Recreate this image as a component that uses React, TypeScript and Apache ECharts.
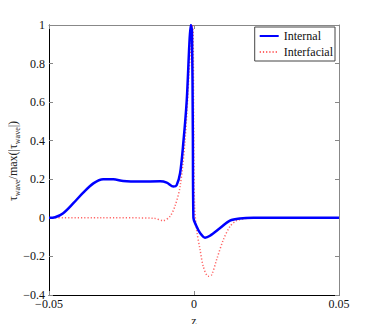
import React, { useEffect, useRef } from "react";
import * as echarts from "echarts";

const internalZ = [-0.05, -0.0479, -0.0451, -0.0416, -0.0382, -0.0347, -0.0313, -0.0278, -0.0244, -0.0186, -0.0117, -0.0094, -0.0071, -0.006, -0.0048, -0.0037, -0.0025, -0.0016, -0.0011, -0.0007, -0.0004, -0.0002, 0.0009, 0.0021, 0.0038, 0.0055, 0.009, 0.0124, 0.0159, 0.0205, 0.05];
const internalV = [0, 0.003, 0.024, 0.076, 0.131, 0.179, 0.2, 0.2, 0.191, 0.188, 0.19, 0.183, 0.162, 0.169, 0.231, 0.386, 0.61, 0.9, 1.0, 0.97, 0.44, 0, -0.045, -0.079, -0.103, -0.093, -0.053, -0.014, -0.003, 0, 0];

const interfacialZ = [-0.05, -0.0324, -0.014, -0.0106, -0.0083, -0.0066, -0.0048, -0.0031, -0.0017, -0.0011, -0.0006, -0.0003, -0.0001, 0.0002, 0.0009, 0.0021, 0.0032, 0.0049, 0.0061, 0.0078, 0.0101, 0.0124, 0.0147, 0.0182, 0.0228, 0.05];
const interfacialV = [0, 0.001, -0.002, -0.014, 0.007, 0.059, 0.162, 0.4, 0.75, 0.9, 1.0, 0.97, 0.44, 0.06, -0.062, -0.166, -0.252, -0.303, -0.295, -0.217, -0.114, -0.045, -0.014, -0.003, 0, 0];

const xTicks = { min: -0.05, max: 0.05, interval: 0.05 };
const yTicks = { min: -0.4, max: 1, interval: 0.2 };

const yTitle = "{t|τ}{s|wave}{t|/max(|τ}{s|wave}{t||)}";

const FONT = "'Liberation Serif', 'Times New Roman', serif";

const fmt = (v: number) => {
  let s = String(Math.round(v * 1000) / 1000);
  return s.replace("-", "\u2212");
};

export default function App() {
  const ref = useRef<HTMLDivElement>(null);
  useEffect(() => {
    if (!ref.current) return;
    const chart = echarts.init(ref.current, null, { renderer: "svg" });
    const pair = (zs: number[], vs: number[]) => zs.map((z, i) => [z, vs[i]]);
    chart.setOption({
      animation: false,
      backgroundColor: "#fff",
      textStyle: { fontFamily: FONT },
      grid: { left: 49, right: 35, top: 25, bottom: 37, containLabel: false, outerBoundsMode: "none" },
      graphic: [
        {
          type: "text",
          x: 13,
          y: 161,
          rotation: Math.PI / 2,
          style: {
            text: yTitle,
            align: "center",
            verticalAlign: "middle",
            fill: "#222",
            font: "12px " + FONT,
            rich: {
              t: { fontFamily: FONT, fontSize: 12, lineHeight: 16, fill: "#222", verticalAlign: "middle" },
              s: { fontFamily: FONT, fontSize: 8, lineHeight: 16, fill: "#222", verticalAlign: "bottom", padding: [6, 0, 0, 0] },
            },
          },
        },
      ],
      legend: {
        orient: "vertical",
        right: 39,
        top: 27,
        backgroundColor: "#fff",
        borderColor: "#444",
        borderWidth: 1,
        borderRadius: 0,
        padding: [3, 2, 3, 4],
        itemGap: 4,
        itemWidth: 19,
        itemHeight: 10,
        itemTextGap: 3,
        itemStyle: { opacity: 0 },
        textStyle: { fontFamily: FONT, fontSize: 12, color: "#111" },
        data: ["Internal", "Interfacial"],
      },
      xAxis: [
        {
          type: "value",
          ...xTicks,
          name: "z",
          nameLocation: "middle",
          nameGap: 10,
          nameTextStyle: { fontFamily: FONT, fontSize: 12, color: "#222" },
          axisLine: { onZero: false, lineStyle: { color: "#000", width: 1 } },
          axisTick: { inside: true, length: 4, lineStyle: { color: "#888" } },
          axisLabel: { formatter: fmt, fontFamily: FONT, fontSize: 12, color: "#111", margin: 3 },
          splitLine: { show: false },
        },
        {
          type: "value",
          position: "top",
          ...xTicks,
          axisLine: { onZero: false, lineStyle: { color: "#888", width: 1 } },
          axisTick: { inside: true, length: 4, lineStyle: { color: "#888" } },
          axisLabel: { show: false },
          splitLine: { show: false },
        },
      ],
      yAxis: [
        {
          type: "value",
          ...yTicks,
          axisLine: { onZero: false, lineStyle: { color: "#000", width: 1 } },
          axisTick: { inside: true, length: 4, lineStyle: { color: "#888" } },
          axisLabel: { formatter: fmt, fontFamily: FONT, fontSize: 12, color: "#111", margin: 4 },
          splitLine: { show: false },
        },
        {
          type: "value",
          position: "right",
          ...yTicks,
          axisLine: { onZero: false, lineStyle: { color: "#888", width: 1 } },
          axisTick: { inside: true, length: 4, lineStyle: { color: "#888" } },
          axisLabel: { show: false },
          splitLine: { show: false },
        },
      ],
      series: [
        {
          name: "Interfacial",
          type: "line",
          data: pair(interfacialZ, interfacialV),
          smooth: 0.3,
          showSymbol: false,
          symbol: "none",
          z: 2,
          itemStyle: { color: "#ff3030" },
          lineStyle: { color: "#ff3030", width: 1.5, type: [1.2, 2], opacity: 0.75 },
        },
        {
          name: "Internal",
          type: "line",
          data: pair(internalZ, internalV),
          smooth: 0.3,
          showSymbol: false,
          symbol: "none",
          z: 3,
          itemStyle: { color: "#0000ff" },
          lineStyle: { color: "#0000ff", width: 2.5 },
        },
      ],
    });
    return () => chart.dispose();
  }, []);
  return <div ref={ref} style={{ width: 374, height: 332, margin: -8 }} />;
}
